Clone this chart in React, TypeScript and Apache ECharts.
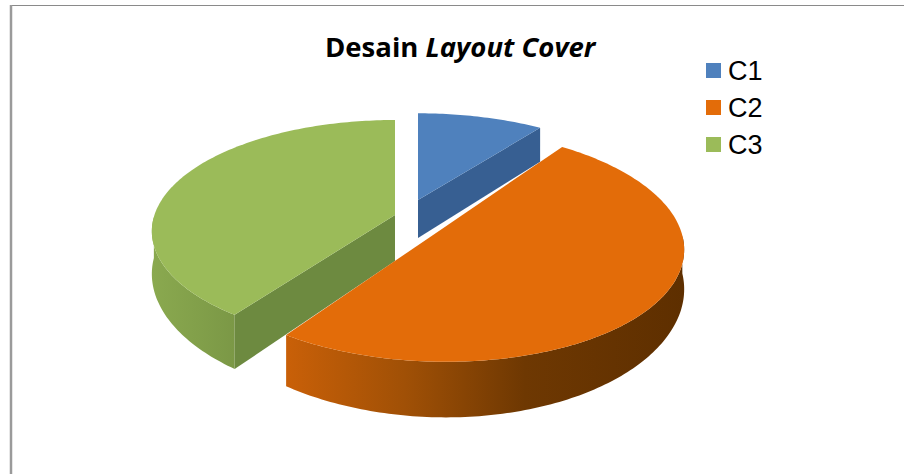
import React, { useEffect, useRef } from "react";
import * as echarts from "echarts";

const sliceNames = ["C1", "C2", "C3"];
const sliceValues = [10, 50, 40];
const topColors = ["#4f81bd", "#e36c09", "#9bbb59"];
const cutColors = ["#375f92", "#a55207", "#6d8a40"];

// Drawing order: the front slice has to cover the walls of the two behind it.
const drawOrder = [0, 2, 1];

const WIDTH = 904;
const HEIGHT = 474;

// Tilted-disc projection of the pie, tuned per slice because each one is
// pulled out of the centre by a different amount.
const RADIUS_X = 237;
const RADIUS_Y = 106;
const PIE_CENTER = [408.5, 213];
const SLICE_OFFSET: [number, number][] = [
  [9.5, -13],
  [26.8, 20.4],
  [-13.5, 2],
];
const SLICE_SCALE: [number, number][] = [
  [1, 0.96],
  [1.04, 1.09],
  [1.015, 1.027],
];
const SLICE_PERSPECTIVE = [0.174, 0.1, 0.146];
const SLICE_SHEAR = [0, 9.6, 0];
const SLICE_EXTRA_DEPTH = [0, 0, 3];
const CUT_APEX_EXTRA_DEPTH = [0, 0, 5];

type Pt = [number, number];

const project = (idx: number, u: number, v: number): Pt => {
  const s = 1 / (1 - SLICE_PERSPECTIVE[idx] * v);
  const [ox, oy] = SLICE_OFFSET[idx];
  const [sx, sy] = SLICE_SCALE[idx];
  return [
    PIE_CENTER[0] + ox + (RADIUS_X * sx * u + SLICE_SHEAR[idx] * v) * s,
    PIE_CENTER[1] + oy + RADIUS_Y * sy * v * s,
  ];
};

// Wall height grows towards the viewer.
const wallHeight = (idx: number, v: number) =>
  38 + SLICE_EXTRA_DEPTH[idx] + 10.6 * v + 7 * v * v;

const rad = (deg: number) => (deg * Math.PI) / 180;
const uOf = (deg: number) => Math.sin(rad(deg));
const vOf = (deg: number) => -Math.cos(rad(deg));

const total = sliceValues.reduce((a, b) => a + b, 0);
const startAngle = (idx: number) =>
  (sliceValues.slice(0, idx).reduce((a, b) => a + b, 0) / total) * 360;

const arcDegrees = (from: number, to: number) => {
  const out: number[] = [];
  for (let d = from; d < to; d += 1) out.push(d);
  out.push(to);
  return out;
};

const wallGradient = (idx: number) => {
  if (idx === 1) {
    return new echarts.graphic.LinearGradient(0, 0, 1, 0, [
      { offset: 0, color: "#c96008" },
      { offset: 0.3, color: "#a05006" },
      { offset: 0.6, color: "#6e3802" },
      { offset: 1, color: "#5e2f00" },
    ]);
  }
  return new echarts.graphic.LinearGradient(0, 0, 1, 0, [
    { offset: 0, color: "#8aa94f" },
    { offset: 1, color: "#7b9846" },
  ]);
};

const renderSlice = (idx: number) => (_params: any, api: any) => {
  const value = api.value(0);
  const from = startAngle(idx);
  const to = from + (value / total) * 360;
  const apex = project(idx, 0, 0);

  const degs = arcDegrees(from, to);
  const topArc = degs.map((d) => project(idx, uOf(d), vOf(d)));
  const children: any[] = [];

  // Side wall along the rim: only the part that faces the viewer.
  const frontDegs = degs.filter((d) => d > 90 && d < 270);
  if (frontDegs.length > 1) {
    const rimTop = frontDegs.map((d) => project(idx, uOf(d), vOf(d)));
    const rimBottom = frontDegs
      .map((d) => {
        const p = project(idx, uOf(d), vOf(d));
        return [p[0], p[1] + wallHeight(idx, vOf(d))] as Pt;
      })
      .reverse();
    children.push({
      type: "polygon",
      shape: { points: [...rimTop, ...rimBottom] },
      style: { fill: wallGradient(idx) },
    });
  }

  // Cut face running from the centre to the rim.
  const cutDeg = idx === 0 ? to : idx === 2 ? from : null;
  if (cutDeg !== null) {
    const rim = project(idx, uOf(cutDeg), vOf(cutDeg));
    children.push({
      type: "polygon",
      shape: {
        points: [
          apex,
          rim,
          [rim[0], rim[1] + wallHeight(idx, vOf(cutDeg))],
          [apex[0], apex[1] + wallHeight(idx, 0) + CUT_APEX_EXTRA_DEPTH[idx]],
        ],
      },
      style: { fill: cutColors[idx] },
    });
  }

  // Top face.
  children.push({
    type: "polygon",
    shape: { points: [apex, ...topArc] },
    style: { fill: topColors[idx] },
  });

  return { type: "group", children };
};

export default function App() {
  const ref = useRef<HTMLDivElement>(null);

  useEffect(() => {
    const chart = echarts.init(ref.current!, null, { renderer: "svg" });
    chart.setOption({
      animation: false,
      backgroundColor: "#ffffff",
      title: {
        text: "{plain|Desain }{slant|Layout Cover}",
        left: 325,
        top: 32,
        padding: 0,
        textStyle: {
          rich: {
            plain: {
              fontFamily: "Open Sans",
              fontWeight: "bold",
              fontSize: 27.5,
              color: "#000000",
            },
            slant: {
              fontFamily: "Open Sans",
              fontWeight: "bold",
              fontStyle: "italic",
              fontSize: 27.5,
              color: "#000000",
            },
          },
        },
      },
      legend: {
        orient: "vertical",
        left: 706,
        top: 57,
        padding: 0,
        itemWidth: 15,
        itemHeight: 15,
        itemGap: 10,
        icon: "rect",
        data: sliceNames,
        textStyle: {
          fontFamily: "Liberation Sans",
          fontSize: 27,
          color: "#000000",
          padding: [0, 0, 0, 2],
        },
      },
      graphic: [
        {
          type: "line",
          silent: true,
          shape: { x1: 10, y1: 5.5, x2: WIDTH, y2: 5.5 },
          style: { stroke: "#8a8a8a", lineWidth: 1 },
        },
        {
          type: "line",
          silent: true,
          shape: { x1: 11, y1: 5, x2: 11, y2: HEIGHT },
          style: { stroke: "#9a9a9a", lineWidth: 2.5 },
        },
      ],
      series: drawOrder.map((idx) => ({
        type: "custom",
        name: sliceNames[idx],
        coordinateSystem: "none",
        silent: true,
        z: drawOrder.indexOf(idx) + 2,
        itemStyle: { color: topColors[idx] },
        data: [[sliceValues[idx]]],
        renderItem: renderSlice(idx),
      })),
    });
    return () => chart.dispose();
  }, []);

  return (
    <div
      ref={ref}
      style={{ position: "fixed", left: 0, top: 0, width: WIDTH, height: HEIGHT }}
    />
  );
}
